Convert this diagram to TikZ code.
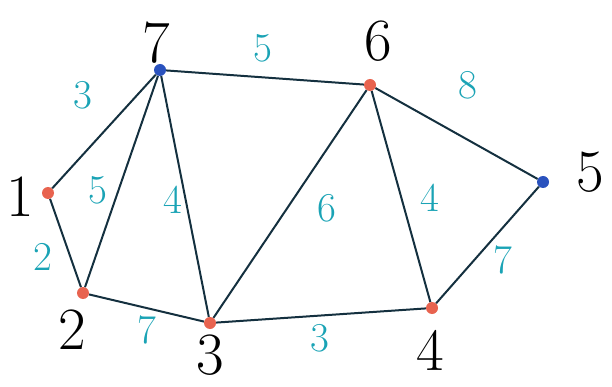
\documentclass[tikz,border=0pt]{standalone}
\usetikzlibrary{positioning}
\definecolor{dotred}{HTML}{E8634F}
\definecolor{dotblue}{HTML}{2A52BE}
\definecolor{edgeink}{HTML}{14303F}
\definecolor{wtteal}{HTML}{1AA3B5}

\begin{document}
\begin{tikzpicture}[x=1pt,y=-1pt,
  vert/.style={circle,inner sep=0pt,minimum size=12pt},
  vlab/.style={font=\fontsize{60}{60}\selectfont,inner sep=0pt},
  wlab/.style={font=\fontsize{41}{41}\selectfont,text=wtteal,inner sep=0pt},
  edge/.style={draw=edgeink,line width=2pt}]
\useasboundingbox (0,0) rectangle (612,387);
% vertices (blue: 5 and 7)
\foreach \n/\x/\y/\c in {1/48/193/dotred,2/83/293/dotred,3/210/323/dotred,
    4/432/308/dotred,5/543/182/dotblue,6/370/85/dotred,7/160/70/dotblue}{
  \node[vert,fill=\c] (v\n) at (\x,\y) {};
}
% vertex numbers
\foreach \n/\x/\y in {1/20/197,2/72/330,3/210/355,4/430/350,5/590/172,
    6/378/41,7/156/43}{
  \node[vlab] (l\n) at (\x,\y) {\n};
}
% edges
\foreach \a/\b in {7/1,7/2,7/3,1/2,2/3,3/4,3/6,7/6,6/4,6/5,5/4}{
  \draw[edge] (v\a) -- (v\b);
}
% weights
\foreach \k/\x/\y/\w in {71/83/95/3,72/98/190/5,73/173/200/4,12/43/257/2,
    23/147/330/7,76/263/48/5,65/468/85/8,64/430/198/4,36/327/208/6,
    54/503/260/7,34/320/338/3}{
  \node[wlab] (w\k) at (\x,\y) {\w};
}
\end{tikzpicture}
\end{document}
